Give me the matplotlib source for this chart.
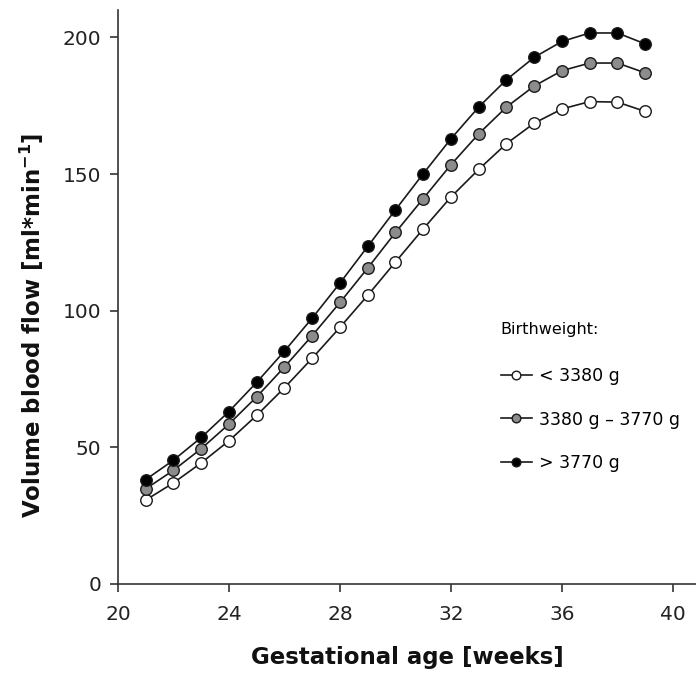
import matplotlib
matplotlib.use("Agg")
import matplotlib.pyplot as plt

weeks = list(range(21, 40))
low = [30.7, 37.0, 44.3, 52.4, 61.7, 71.8, 82.6, 93.9, 105.6, 117.8, 129.9, 141.6, 151.7, 161.1, 168.6, 173.8, 176.5, 176.3, 172.9]
mid = [34.8, 41.6, 49.5, 58.5, 68.5, 79.4, 90.9, 103.0, 115.6, 128.6, 141.0, 153.4, 164.7, 174.5, 182.2, 187.8, 190.6, 190.6, 187.0]
high = [38.2, 45.3, 53.6, 63.1, 73.8, 85.2, 97.3, 110.1, 123.5, 136.9, 150.1, 162.9, 174.5, 184.5, 192.7, 198.5, 201.6, 201.6, 197.6]
labels = ["< 3380 g", "3380 g \u2013 3770 g", "> 3770 g"]
fills = ["white", "#8c8c8c", "black"]
xticks = [20, 24, 28, 32, 36, 40]
yticks = [0, 50, 100, 150, 200]

plt.rcParams['font.family'] = ['DejaVu Sans']
fig = plt.figure(figsize=(6.96, 6.86), dpi=100)
ax = fig.add_axes([0.1695, 0.1487, 0.8305, 0.8367])

for ys, lab, fc in zip([low, mid, high], labels, fills):
    ax.plot(weeks, ys, color='#1a1a1a', lw=1.2, marker='o', ms=8.3,
            mfc=fc, mec='#1a1a1a', mew=1.0, label=lab)

ax.set_xlim(20, 40.83)
ax.set_ylim(0, 210)
ax.set_xticks(xticks)
ax.set_yticks(yticks)
for s in ['top', 'right']:
    ax.spines[s].set_visible(False)
for s in ['left', 'bottom']:
    ax.spines[s].set_color('#333333')
    ax.spines[s].set_linewidth(1.2)
ax.tick_params(direction='out', length=6, width=1.2, color='#333333',
               labelsize=14.5, labelcolor='#222222')
ax.tick_params(axis='x', pad=9)
ax.tick_params(axis='y', pad=6)
ax.set_xlabel("Gestational age [weeks]", fontsize=16.5, fontweight='bold', labelpad=16, color='#111111')
ax.set_ylabel("Volume blood flow [ml*min$^{\\mathbf{-1}}$]", fontsize=16.5, fontweight='bold', color='#111111')
ax.yaxis.set_label_coords(-0.125, 0.45)

leg = ax.legend(loc='upper left', bbox_to_anchor=(0.635, 0.484), frameon=False,
                title="Birthweight:", fontsize=12.5, title_fontsize=11.5,
                handlelength=1.8, handletextpad=0.4, labelspacing=1.45,
                markerscale=0.75, alignment='left')
leg._legend_box.sep = 22

fig.savefig("out.png", dpi=100)
